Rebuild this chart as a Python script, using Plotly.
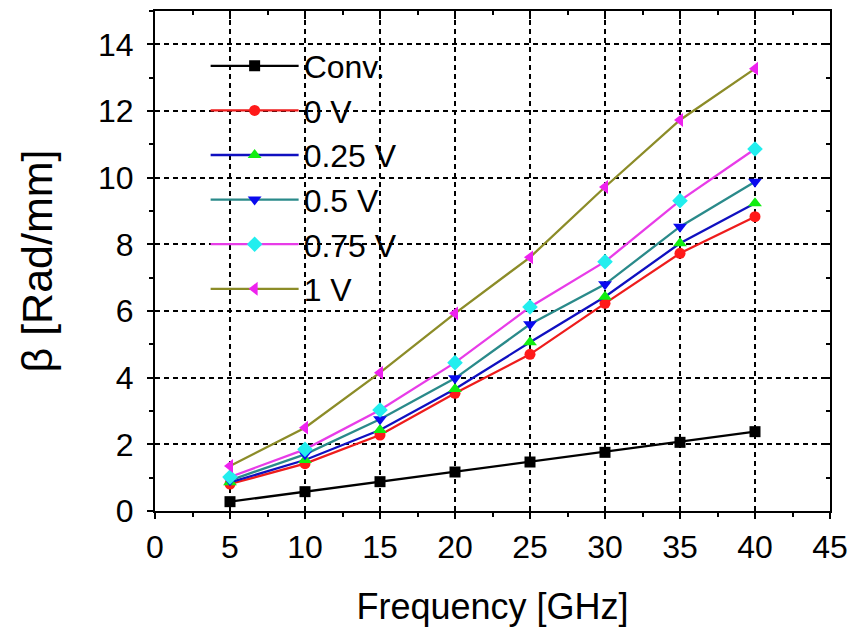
import plotly.graph_objects as go

freq = [5, 10, 15, 20, 25, 30, 35, 40]
series_names = ["Conv.", "0 V", "0.25 V", "0.5 V", "0.75 V", "1 V"]
conv = [0.28, 0.58, 0.88, 1.17, 1.47, 1.76, 2.06, 2.38]
v0 = [0.81, 1.42, 2.28, 3.53, 4.70, 6.23, 7.73, 8.83]
v025 = [0.86, 1.53, 2.43, 3.66, 5.06, 6.43, 8.03, 9.23]
v05 = [0.92, 1.70, 2.75, 3.98, 5.60, 6.80, 8.53, 9.88]
v075 = [1.02, 1.85, 3.03, 4.45, 6.12, 7.48, 9.31, 10.86]
v1 = [1.35, 2.50, 4.15, 5.93, 7.61, 9.72, 11.73, 13.27]
series_values = [conv, v0, v025, v05, v075, v1]

line_colors = ["#000000", "#ee1c1c", "#1010c0", "#2a8a8a", "#e83ce8", "#8c8c28"]
marker_colors = ["#000000", "#ff1a1a", "#11ee11", "#0a0aee", "#22eeee", "#ee22ee"]
symbols = ["square", "circle", "triangle-up", "triangle-down", "diamond", "triangle-left"]
marker_sizes = [11, 11, 12, 12, 12, 12]

FONT = "Liberation Sans, Arial, sans-serif"

fig = go.Figure()
for name, vals, lc, mc, sym, ms in zip(series_names, series_values, line_colors,
                                       marker_colors, symbols, marker_sizes):
    fig.add_trace(go.Scatter(
        x=freq, y=vals, name=name, mode="lines+markers",
        line=dict(color=lc, width=2.3),
        marker=dict(symbol=sym, color=mc, size=ms, line=dict(width=0)),
    ))

# empty trace to activate mirrored axes (top / right) with inward ticks
fig.add_trace(go.Scatter(x=[], y=[], xaxis="x2", yaxis="y2", showlegend=False,
                         hoverinfo="skip"))

axis_common = dict(
    showline=True, linecolor="black", linewidth=2.2,
    ticks="outside", ticklen=6, tickwidth=2, tickcolor="black",
    showgrid=True, gridcolor="black", gridwidth=1.5, griddash="5px,4px",
    zeroline=False,
    tickfont=dict(family=FONT, size=32, color="black"),
)

fig.update_layout(
    width=857, height=627,
    margin=dict(l=155, r=27, t=11, b=116),
    paper_bgcolor="white", plot_bgcolor="white",
    showlegend=True,
    legend=dict(
        x=0.075, y=0.945, xanchor="left", yanchor="top",
        bgcolor="rgba(0,0,0,0)", borderwidth=0,
        font=dict(family=FONT, size=32, color="black"),
        itemwidth=88, tracegroupgap=0,
    ),
    xaxis=dict(
        range=[0, 45], tickmode="array", tickvals=list(range(0, 46, 5)),
        minor=dict(ticks="outside", ticklen=4, tickwidth=2, tickcolor="black",
                   dtick=2.5, tick0=0, showgrid=False),
        title=dict(text="Frequency [GHz]", standoff=34,
                   font=dict(family=FONT, size=36, color="black")),
        automargin=False,
        **axis_common,
    ),
    yaxis=dict(
        range=[0, 15], tickmode="array", tickvals=list(range(0, 15, 2)),
        minor=dict(ticks="outside", ticklen=4, tickwidth=2, tickcolor="black",
                   dtick=1, tick0=0, showgrid=False),
        ticklabelstandoff=7,
        title=dict(text="β [Rad/mm]", standoff=32,
                   font=dict(family=FONT, size=43, color="black")),
        automargin=False,
        **axis_common,
    ),
    xaxis2=dict(
        overlaying="x", side="top", range=[0, 45], matches="x",
        showline=True, linecolor="black", linewidth=2.2,
        ticks="inside", ticklen=8, tickwidth=2, tickcolor="black",
        tickvals=list(range(0, 46, 5)), showticklabels=False,
        minor=dict(ticks="inside", ticklen=4, tickwidth=2, tickcolor="black",
                   dtick=2.5, tick0=0),
        showgrid=False, zeroline=False,
    ),
    yaxis2=dict(
        overlaying="y", side="right", range=[0, 15], matches="y",
        showline=True, linecolor="black", linewidth=2.2,
        ticks="inside", ticklen=8, tickwidth=2, tickcolor="black",
        tickvals=list(range(0, 15, 2)), showticklabels=False,
        minor=dict(ticks="inside", ticklen=4, tickwidth=2, tickcolor="black",
                   dtick=1, tick0=0),
        showgrid=False, zeroline=False,
    ),
)

fig.write_html("out.html")
